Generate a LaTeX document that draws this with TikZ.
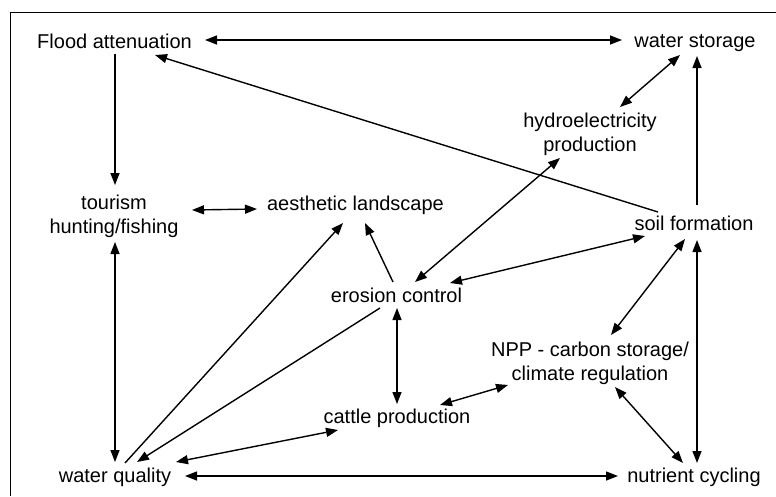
\documentclass[tikz,border=0pt]{standalone}
\usepackage{fontspec}
\setmainfont{Liberation Sans}
\usetikzlibrary{arrows.meta}
\begin{document}
\begin{tikzpicture}[x=1pt,y=-1pt,
  svc/.style={inner sep=0pt, anchor=base, font=\fontsize{20}{23.5}\selectfont},
  svc2/.style={svc, align=center},
  tip/.tip={Triangle[length=12pt,width=9pt]},
  link/.style={line width=1.4pt, -tip},
  both/.style={line width=1.4pt, tip-tip},
  plain/.style={line width=1.4pt}]
\useasboundingbox (0,0) rectangle (776,496);
% frame
\draw[line width=1pt] (776,12) -- (10,12) -- (10,496);

% ecosystem services (two-line nodes sit on the baseline of their last line)
\node[svc]  (flood)  at (114.5,48) {Flood attenuation};
\node[svc]  (wstor)  at (695,47)   {water storage};
\node[svc2] (hydro)  at (590,151)  {hydroelectricity\\production};
\node[svc2] (tour)   at (114,233)  {tourism\\hunting/fishing};
\node[svc]  (aesth)  at (355.5,210) {aesthetic landscape};
\node[svc]  (soil)   at (694,230)  {soil formation};
\node[svc]  (eros)   at (396.5,302) {erosion control};
\node[svc2] (npp)    at (590,380)  {NPP - carbon storage/\\climate regulation};
\node[svc]  (cattle) at (397,423)  {cattle production};
\node[svc]  (wq)     at (115,482)  {water quality};
\node[svc]  (nutr)   at (694,482)  {nutrient cycling};

% links
\draw[both] ([shift={(90.5,-8)}]flood.base) -- ([shift={(-73,-7)}]wstor.base);
\draw[link] ([shift={(0.5,6)}]flood.base) -- ([shift={(1,-48)}]tour.base);
\draw[link] ([shift={(-36,-18)}]soil.base) -- ([shift={(40.5,7)}]flood.base);
\draw[both] ([shift={(30,-44)}]hydro.base) -- ([shift={(-15,8)}]wstor.base);
\draw[link] ([shift={(3,-25)}]soil.base) -- ([shift={(2,9)}]wstor.base);
\draw[both] ([shift={(-30,7)}]hydro.base) -- ([shift={(18.5,-20)}]eros.base);
\draw[both] ([shift={(53.5,-19)}]eros.base) -- ([shift={(-49,6)}]soil.base);
\draw[both] ([shift={(-9,9)}]soil.base) -- ([shift={(21,-45)}]npp.base);
\draw[both] ([shift={(3,10)}]soil.base) -- ([shift={(3,-19)}]nutr.base);
\draw[both] ([shift={(25,7)}]npp.base) -- ([shift={(-11,-19)}]nutr.base);
\draw[both] ([shift={(70,-6)}]wq.base) -- ([shift={(-76,-6)}]nutr.base);
\draw[both] ([shift={(78,-23)}]tour.base) -- ([shift={(-98.5,-1)}]aesth.base);
\draw[both] ([shift={(1,9)}]tour.base) -- ([shift={(0,-20)}]wq.base);
\draw[link] ([shift={(10,-19)}]wq.base) -- ([shift={(-12.5,13)}]aesth.base);
\draw[link] ([shift={(-3.5,-20)}]eros.base) -- ([shift={(9.5,13)}]aesth.base);
\draw[link] ([shift={(-16.5,6)}]eros.base) -- ([shift={(22,-20)}]wq.base);
\draw[both] ([shift={(61,-20)}]wq.base) -- ([shift={(-59,7)}]cattle.base);
\draw[both] ([shift={(0.5,6)}]eros.base) -- ([shift={(0,-19)}]cattle.base);
\draw[both] ([shift={(43,-18)}]cattle.base) -- ([shift={(-82,5)}]npp.base);
\end{tikzpicture}
\end{document}
